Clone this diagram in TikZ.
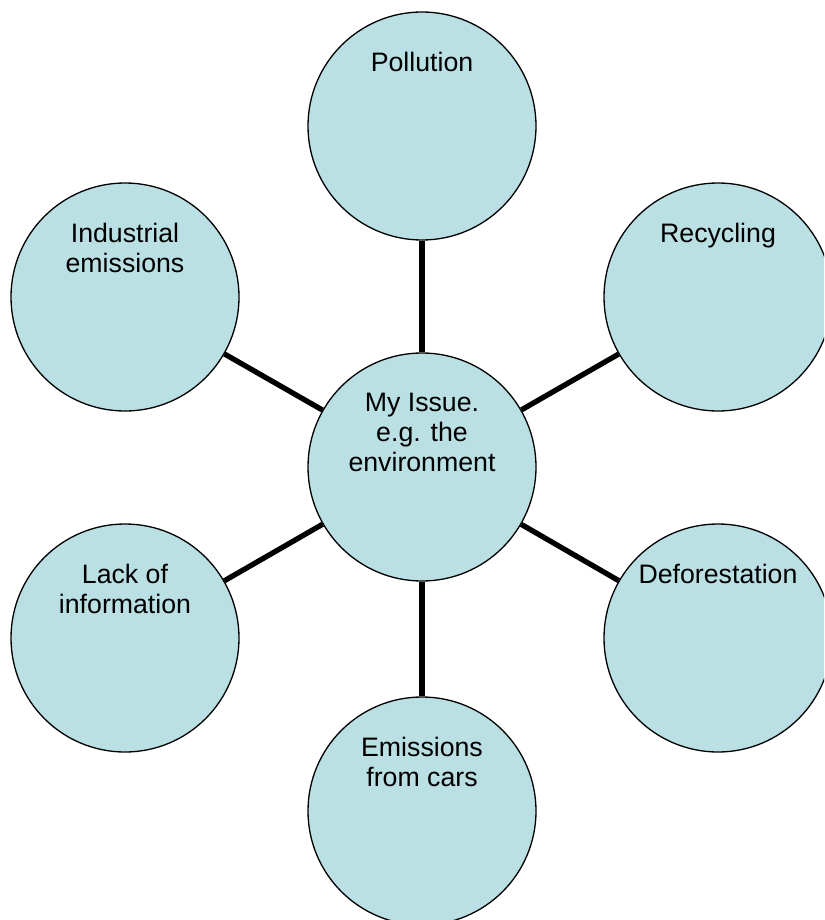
\documentclass[tikz,border=0pt]{standalone}
\usepackage{fontspec}
\setmainfont{Liberation Sans}
\definecolor{bubblefill}{RGB}{186,224,228}
\begin{document}
\begin{tikzpicture}[x=1pt,y=-1pt,
  bubble/.style={circle, draw=black, line width=1.3pt, fill=bubblefill,
    minimum size=228pt, inner sep=0pt},
  caption/.style={anchor=north, inner sep=0pt, align=center,
    font=\fontsize{26.7}{30}\selectfont},
  spoke/.style={line width=5.3pt, black}]
  \useasboundingbox (0,0) rectangle (824,920);
  \clip (0,0) rectangle (824,920);

  % hub and the six topic bubbles
  \node[bubble] (hub)  at (422,467) {};
  \node[bubble] (poll) at (422,126) {};
  \node[bubble] (recy) at (718,297) {};
  \node[bubble] (defo) at (718,638) {};
  \node[bubble] (cars) at (422,811) {};
  \node[bubble] (lack) at (125,638) {};
  \node[bubble] (indu) at (125,297) {};

  % spokes from the hub
  \foreach \t in {poll,recy,defo,cars,lack,indu}
    \draw[spoke] (hub) -- (\t);

  % captions sit near the top of each bubble
  \node[caption] (hubt)  at ([yshift=-41pt]hub.north)  {My Issue.\\e.g. the\\environment};
  \node[caption] (pollt) at ([yshift=-41pt]poll.north) {Pollution};
  \node[caption] (recyt) at ([yshift=-41pt]recy.north) {Recycling};
  \node[caption] (defot) at ([yshift=-41pt]defo.north) {Deforestation};
  \node[caption] (carst) at ([yshift=-41pt]cars.north) {Emissions\\from cars};
  \node[caption] (lackt) at ([yshift=-41pt]lack.north) {Lack of\\information};
  \node[caption] (indut) at ([yshift=-41pt]indu.north) {Industrial\\emissions};
\end{tikzpicture}
\end{document}
